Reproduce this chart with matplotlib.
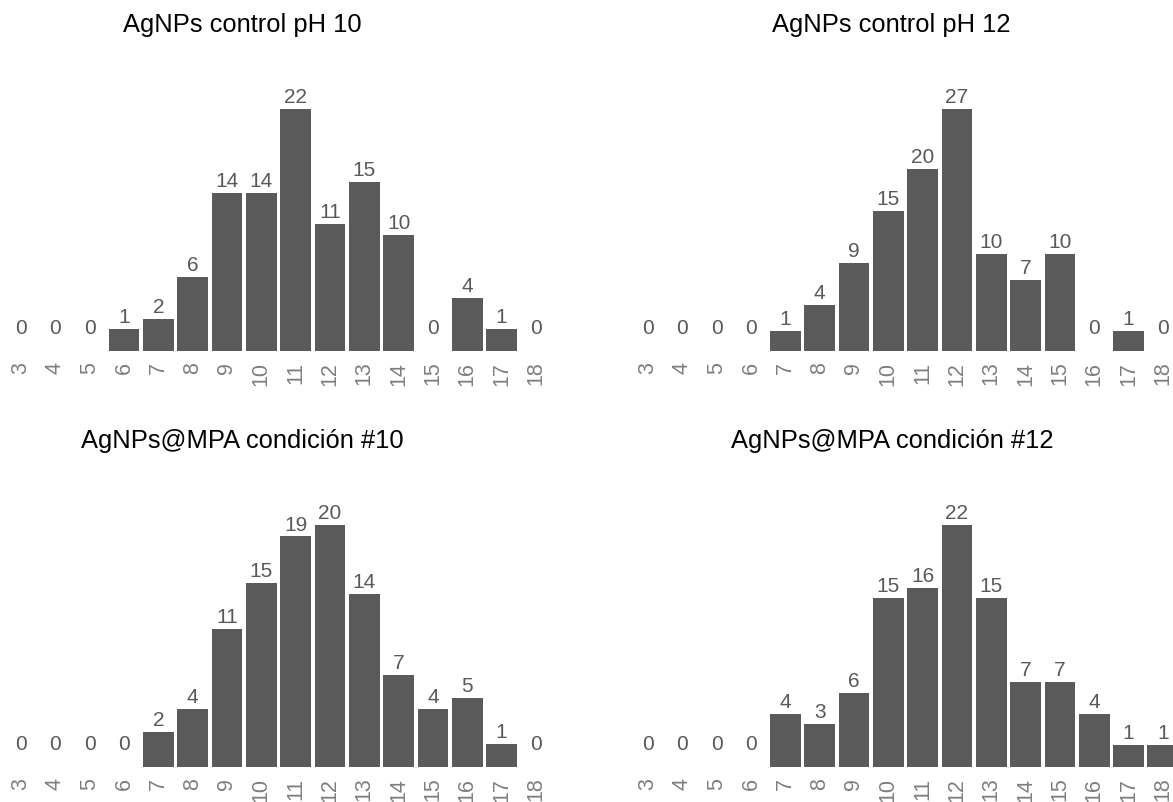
import numpy as np
import matplotlib
matplotlib.use("Agg")
import matplotlib.pyplot as plt

# Size classes (nm) shared by every panel
SIZES = [str(s) for s in range(3, 19)]

# Counts per size class, one list per sample
COUNTS_PH10 = [0, 0, 0, 1, 2, 6, 14, 14, 22, 11, 15, 10, 0, 4, 1, 0]
COUNTS_PH12 = [0, 0, 0, 0, 1, 4, 9, 15, 20, 27, 10, 7, 10, 0, 1, 0]
COUNTS_MPA10 = [0, 0, 0, 0, 2, 4, 11, 15, 19, 20, 14, 7, 4, 5, 1, 0]
COUNTS_MPA12 = [0, 0, 0, 0, 4, 3, 6, 15, 16, 22, 15, 7, 7, 4, 1, 1]

TITLES = ["AgNPs control pH 10", "AgNPs control pH 12",
          "AgNPs@MPA condición #10", "AgNPs@MPA condición #12"]

BAR_COLOR = "#5a5a5a"
LABEL_COLOR = "#595959"
TICK_COLOR = "#7f7f7f"
FONT = ["Liberation Sans", "DejaVu Sans"]

W, H = 1173, 803
plt.rcParams["font.family"] = FONT


def add_panel(fig, counts, title, left, baseline, title_x):
    """ Draw one bar panel. left / baseline / title_x are pixel positions. """
    step = 34.33
    width = 16.2 * step
    height = 253.6
    ax = fig.add_axes([left / W, (H - baseline) / H, width / W, height / H])

    x = np.arange(len(SIZES))
    counts = np.array(counts)
    top = counts.max()
    ymin = -0.05 * top
    # bars start at the panel floor (ggplot-like expansion below zero),
    # empty classes get no bar at all
    heights = np.where(counts > 0, counts - ymin, 0)
    ax.bar(x, heights, bottom=ymin, width=0.9, color=BAR_COLOR)

    for xi, c in zip(x, counts):
        ax.annotate(str(c), (xi, c), xytext=(0, 5), textcoords="offset points",
                    ha="center", va="baseline", fontsize=15, color=LABEL_COLOR,
                    annotation_clip=False)

    ax.set_xlim(-0.6, len(SIZES) - 0.4)
    ax.set_ylim(ymin, 1.05 * top)
    ax.set_xticks(x)
    ax.set_xticklabels(SIZES, rotation=90, ha="center", va="top",
                       fontsize=15.5, color=TICK_COLOR)
    ax.tick_params(axis="x", length=0, pad=7)
    ax.set_yticks([])
    for s in ax.spines.values():
        s.set_visible(False)

    fig.text(title_x / W, (H - baseline + 320) / H, title, ha="center",
             va="baseline", fontsize=18.4, color="black")
    return ax


fig = plt.figure(figsize=(W / 100, H / 100), dpi=100)

add_panel(fig, COUNTS_PH10, TITLES[0], 0.4, 352, 242)
add_panel(fig, COUNTS_PH12, TITLES[1], 627.4, 352, 891)
add_panel(fig, COUNTS_MPA10, TITLES[2], 0.4, 768, 242)
add_panel(fig, COUNTS_MPA12, TITLES[3], 627.4, 768, 892)

fig.savefig("out.png", dpi=100)
